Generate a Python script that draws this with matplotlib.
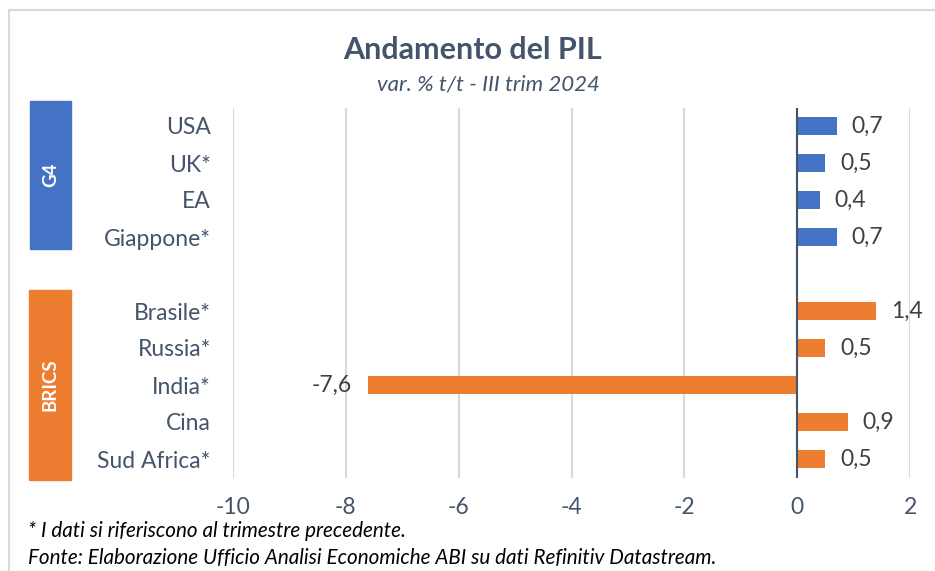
import matplotlib
matplotlib.use("Agg")
import matplotlib.pyplot as plt
from matplotlib.patches import Rectangle
from matplotlib.transforms import blended_transform_factory
import matplotlib.lines as mlines

# ---- data ----
g4_countries = ["USA", "UK*", "EA", "Giappone*"]
g4_values = [0.7, 0.5, 0.4, 0.7]
brics_countries = ["Brasile*", "Russia*", "India*", "Cina", "Sud Africa*"]
brics_values = [1.4, 0.5, -7.6, 0.9, 0.5]
x_ticks = [-10, -8, -6, -4, -2, 0, 2]
group_names = ["G4", "BRICS"]

BLUE = "#4472C4"
ORANGE = "#ED7D31"
SLATE = "#44546A"
LABEL = "#404040"
FONT = ["Lato", "DejaVu Sans"]
plt.rcParams["font.family"] = FONT

W, H = 935, 571
fig = plt.figure(figsize=(W / 100, H / 100), dpi=100)

# chart border (left and top)
fig.add_artist(mlines.Line2D([9 / W, 9 / W], [0, 1 - 10 / H], color="#D9D9D9", lw=1.5))
fig.add_artist(mlines.Line2D([9 / W, 1], [1 - 10 / H, 1 - 10 / H], color="#D9D9D9", lw=1.5))

ax_l, ax_r, ax_t, ax_b = 233, 910, 107.5, 477.5
ax = fig.add_axes([ax_l / W, 1 - ax_b / H, (ax_r - ax_l) / W, (ax_b - ax_t) / H])

g4_pos = list(range(len(g4_countries)))
brics_pos = [len(g4_countries) + 1 + i for i in range(len(brics_countries))]

ax.barh(g4_pos, g4_values, height=0.5, color=BLUE, zorder=3)
ax.barh(brics_pos, brics_values, height=0.5, color=ORANGE, zorder=3)

for pos, v in zip(g4_pos + brics_pos, g4_values + brics_values):
    txt = f"{v:.1f}".replace(".", ",")
    if v >= 0:
        ax.annotate(txt, (v, pos), xytext=(10.5, 0), textcoords="offset points",
                    ha="left", va="center", fontsize=16.5, color=LABEL)
    else:
        ax.annotate(txt, (v, pos), xytext=(-12, 0), textcoords="offset points",
                    ha="right", va="center", fontsize=16.5, color=LABEL)

ax.set_xlim(-10, 2)
ax.set_ylim(brics_pos[-1] + 0.5, -0.5)
ax.set_xticks(x_ticks)
ax.set_xticklabels([str(t) for t in x_ticks])
ax.set_yticks(g4_pos + brics_pos)
ax.set_yticklabels(g4_countries + brics_countries)
ax.tick_params(axis="both", length=0, labelsize=16.5, labelcolor=SLATE)
ax.tick_params(axis="y", pad=16)
ax.tick_params(axis="x", pad=14)
for s in ax.spines.values():
    s.set_visible(False)
ax.grid(axis="x", color="#D9D9D9", lw=1.5, zorder=0)
ax.axvline(0, color=SLATE, lw=1.5, zorder=4)

# group boxes
tr = blended_transform_factory(fig.transFigure, ax.transData)
boxes = [(30, 41, -0.68, 3.32, BLUE), (29, 42, 4.43, 9.57, ORANGE)]
for name, (x0, wpx, y0, y1, col) in zip(group_names, boxes):
    r = Rectangle((x0 / W, y0), wpx / W, y1 - y0, transform=tr, color=col, clip_on=False)
    fig.add_artist(r)
    fig.text((x0 + wpx / 2) / W, (y0 + y1) / 2, name, transform=tr, rotation=90,
             ha="center", va="center", color="white", fontsize=13.5, fontweight="bold")

fig.text(473 / W, 1 - 50 / H, "Andamento del PIL", ha="center", va="center",
         fontsize=22, fontweight="bold", color=SLATE)
fig.text(488 / W, 1 - 84 / H, "var. % t/t - III trim 2024", ha="center", va="center",
         fontsize=16, fontstyle="italic", color=SLATE)
fig.text(28 / W, 1 - 531 / H, "* I dati si riferiscono al trimestre precedente.", ha="left",
         va="center", fontsize=14.9, fontstyle="italic", color="#000000")
fig.text(28 / W, 1 - 558 / H,
         "Fonte: Elaborazione Ufficio Analisi Economiche ABI su dati Refinitiv Datastream.",
         ha="left", va="center", fontsize=14.9, fontstyle="italic", color="#000000")

fig.savefig("out.png", dpi=100)
